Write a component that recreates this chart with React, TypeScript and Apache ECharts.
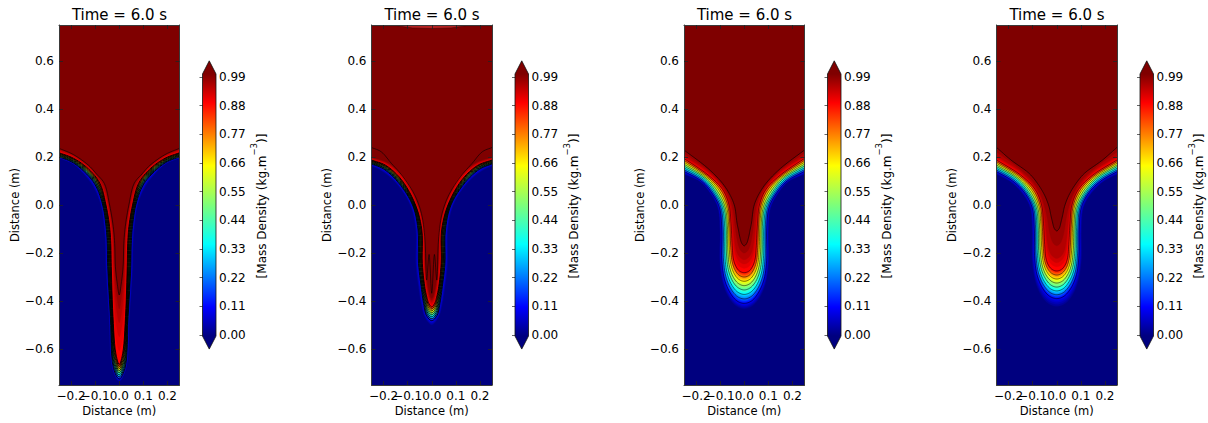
import React, { useEffect, useRef } from "react";
import * as echarts from "echarts";

const titleText = "Time = 6.0 s";
const axisName = "Distance (m)";
const xTicks = [-0.2, -0.1, 0, 0.1, 0.2];
const xLabelOrder = [0, -0.2, -0.1, 0.1, 0.2];
const yTicks = [-0.6, -0.4, -0.2, 0, 0.2, 0.4, 0.6];
const jetStops: [number, string][] = [[0, "#00007f"], [0.11, "#0000ff"], [0.35, "#00ffff"], [0.5, "#7dff7a"], [0.65, "#ffff00"], [0.89, "#ff0000"], [1, "#7f0000"]];
const contourLevels = [0.11, 0.22, 0.33, 0.44, 0.55, 0.66, 0.77, 0.88, 0.99];
const cbarOutline = [[0, -0.004], [0.5, -0.054], [1, -0.004], [1, 1.0015], [0.5, 1.052], [0, 1.0015]];

type Pt = [number, number];
const p1Levels = [0, 0.11, 0.88, 0.99];
const p1Curves: Pt[][] = [
  [[0, -0.738], [0.03, -0.68], [0.044, -0.465], [0.058, -0.257], [0.06, -0.16], [0.065, -0.09], [0.078, 0], [0.105, 0.065], [0.127, 0.1], [0.19, 0.168], [0.25, 0.194]],
  [[0, -0.725], [0.024, -0.68], [0.037, -0.465], [0.048, -0.257], [0.05, -0.16], [0.055, -0.09], [0.069, 0], [0.095, 0.075], [0.127, 0.12], [0.19, 0.175], [0.25, 0.201]],
  [[0, -0.665], [0.014, -0.62], [0.026, -0.465], [0.033, -0.257], [0.035, -0.16], [0.04, -0.09], [0.055, 0], [0.08, 0.09], [0.127, 0.15], [0.19, 0.195], [0.25, 0.218]],
  [[0, -0.375], [0.008, -0.33], [0.016, -0.257], [0.019, -0.16], [0.025, -0.09], [0.04, 0], [0.062, 0.09], [0.095, 0.13], [0.127, 0.165], [0.19, 0.21], [0.25, 0.236]],
];
const p2Levels = [0, 0.11, 0.88, 0.99];
const p2Curves: Pt[][] = [
  [[0, -0.504], [0.03, -0.47], [0.045, -0.42], [0.058, -0.34], [0.069, -0.243], [0.069, -0.104], [0.092, 0], [0.15, 0.09], [0.21, 0.14], [0.25, 0.16]],
  [[0, -0.482], [0.022, -0.46], [0.034, -0.41], [0.044, -0.34], [0.055, -0.243], [0.057, -0.104], [0.08, 0], [0.14, 0.095], [0.2, 0.15], [0.25, 0.171]],
  [[0, -0.425], [0.012, -0.41], [0.02, -0.385], [0.029, -0.34], [0.039, -0.243], [0.041, -0.104], [0.067, 0], [0.125, 0.105], [0.19, 0.165], [0.25, 0.1875]],
  [[0, -0.389], [0.006, -0.38], [0.011, -0.36], [0.017, -0.33], [0.025, -0.243], [0.029, -0.104], [0.053, 0], [0.112, 0.115], [0.18, 0.175], [0.25, 0.2]],
];
const p2ThinLine: Pt[] = [[0, -0.368], [0.011, -0.206], [0.021, -0.313], [0.029, -0.132], [0.043, -0.035], [0.071, 0.042], [0.119, 0.118], [0.168, 0.174], [0.21, 0.222], [0.251, 0.24]];
const p2TopArc: Pt[] = [[0, 0.735], [0.08, 0.738], [0.145, 0.747], [0.3, 0.747]];
const p3Levels = [0, 0.11, 0.44, 0.88, 0.95, 0.99];
const p3Curves: Pt[][] = [
  [[0, -0.4375], [0.035, -0.425], [0.065, -0.39], [0.09, -0.33], [0.103, -0.24], [0.103, -0.1], [0.112, -0.01], [0.144, 0.05], [0.185, 0.097], [0.25, 0.125]],
  [[0, -0.41], [0.03, -0.4], [0.058, -0.367], [0.082, -0.31], [0.093, -0.23], [0.093, -0.1], [0.103, -0.01], [0.135, 0.051], [0.178, 0.1], [0.25, 0.14]],
  [[0, -0.354], [0.025, -0.345], [0.048, -0.318], [0.066, -0.27], [0.074, -0.2], [0.075, -0.09], [0.085, -0.01], [0.118, 0.055], [0.163, 0.11], [0.25, 0.1625]],
  [[0, -0.282], [0.02, -0.275], [0.035, -0.255], [0.045, -0.225], [0.05, -0.17], [0.055, -0.076], [0.063, 0], [0.09, 0.065], [0.15, 0.125], [0.25, 0.194]],
  [[0, -0.225], [0.018, -0.215], [0.03, -0.195], [0.038, -0.16], [0.044, -0.11], [0.05, -0.05], [0.06, 0.01], [0.088, 0.072], [0.15, 0.14], [0.25, 0.205]],
  [[0, -0.17], [0.01, -0.16], [0.018, -0.135], [0.024, -0.105], [0.03, -0.075], [0.04, -0.005], [0.058, 0.04], [0.09, 0.09], [0.15, 0.152], [0.25, 0.229]],
];
const p4Levels = [0, 0.11, 0.44, 0.88, 0.95, 0.99];
const p4Curves: Pt[][] = [
  [[0, -0.43], [0.035, -0.418], [0.065, -0.385], [0.09, -0.325], [0.105, -0.23], [0.105, -0.1], [0.113, -0.01], [0.147, 0.049], [0.196, 0.097], [0.25, 0.125]],
  [[0, -0.39], [0.03, -0.38], [0.058, -0.348], [0.082, -0.29], [0.092, -0.21], [0.093, -0.1], [0.102, -0.01], [0.134, 0.052], [0.183, 0.1], [0.25, 0.139]],
  [[0, -0.342], [0.025, -0.333], [0.048, -0.305], [0.066, -0.26], [0.075, -0.19], [0.077, -0.09], [0.085, -0.01], [0.117, 0.055], [0.166, 0.11], [0.25, 0.16]],
  [[0, -0.275], [0.02, -0.268], [0.035, -0.25], [0.045, -0.22], [0.05, -0.165], [0.055, -0.076], [0.063, 0], [0.09, 0.065], [0.15, 0.125], [0.25, 0.1875]],
  [[0, -0.22], [0.018, -0.21], [0.03, -0.19], [0.038, -0.155], [0.044, -0.105], [0.05, -0.05], [0.06, 0.01], [0.088, 0.072], [0.15, 0.14], [0.25, 0.205]],
  [[0, -0.108], [0.01, -0.098], [0.018, -0.07], [0.025, -0.04], [0.032, -0.007], [0.05, 0.04], [0.08, 0.09], [0.115, 0.132], [0.19, 0.1875], [0.25, 0.24]],
];

const panels = [
  { left: 59, levels: p1Levels, curves: p1Curves, packed: true },
  { left: 371.5, levels: p2Levels, curves: p2Curves, packed: true, thinLine: p2ThinLine, topArc: p2TopArc },
  { left: 684, levels: p3Levels, curves: p3Curves, packed: false },
  { left: 996.5, levels: p4Levels, curves: p4Curves, packed: false },
];

function hex(c: string) {
  return [1, 3, 5].map((i) => parseInt(c.slice(i, i + 2), 16));
}
function jet(level: number) {
  const t = Math.max(0, Math.min(1, level / 0.99));
  for (let i = 1; i < jetStops.length; i++) {
    if (t <= jetStops[i][0]) {
      const [a, ca] = jetStops[i - 1];
      const [b, cb] = jetStops[i];
      const f = (t - a) / (b - a);
      const A = hex(ca), B = hex(cb);
      return `rgb(${A.map((v, k) => Math.round(v + (B[k] - v) * f)).join(",")})`;
    }
  }
  return "#7f0000";
}
// Shade between two read contours for the fill of a band.
function curveAt(p: { levels: number[]; curves: Pt[][] }, level: number): Pt[] {
  let i = 0;
  while (i < p.levels.length - 2 && level > p.levels[i + 1]) i++;
  const f = (level - p.levels[i]) / (p.levels[i + 1] - p.levels[i]);
  return p.curves[i].map((a, k) => {
    const b = p.curves[i + 1][k];
    return [a[0] + (b[0] - a[0]) * f, a[1] + (b[1] - a[1]) * f] as Pt;
  });
}
function extended(c: Pt[]): Pt[] {
  const e = c[c.length - 1], g = c[c.length - 2];
  const slope = (e[1] - g[1]) / (e[0] - g[0]);
  return [...c, [e[0] + 0.06, e[1] + slope * 0.06]];
}
// Curves run from the tip outwards; the left side is the mirror image.
function mirrored(c: Pt[]): Pt[] {
  const left = c.filter((q) => q[0] !== 0).map((q) => [-q[0], q[1]] as Pt).reverse();
  return [...left, ...c];
}
// Centripetal Catmull-Rom drawing of a curve through its pixel points.
function spline(P: number[][]): number[][] {
  const out: number[][] = [];
  const n = P.length;
  const knot = (a: number[], b: number[]) => Math.sqrt(Math.hypot(b[0] - a[0], b[1] - a[1])) || 1e-3;
  for (let i = 0; i < n - 1; i++) {
    const p1 = P[i], p2 = P[i + 1];
    const p0 = i > 0 ? P[i - 1] : [2 * p1[0] - p2[0], 2 * p1[1] - p2[1]];
    const p3 = i < n - 2 ? P[i + 2] : [2 * p2[0] - p1[0], 2 * p2[1] - p1[1]];
    const t1 = knot(p0, p1), t2 = t1 + knot(p1, p2), t3 = t2 + knot(p2, p3);
    for (let s = 0; s < 6; s++) {
      const t = t1 + ((t2 - t1) * s) / 6;
      const q: number[] = [0, 1].map((k) => {
        const a1 = ((t1 - t) * p0[k] + t * p1[k]) / t1;
        const a2 = ((t2 - t) * p1[k] + (t - t1) * p2[k]) / (t2 - t1);
        const a3 = ((t3 - t) * p2[k] + (t - t2) * p3[k]) / (t3 - t2);
        const b1 = ((t2 - t) * a1 + t * a2) / t2;
        const b2 = ((t3 - t) * a2 + (t - t1) * a3) / (t3 - t1);
        return ((t2 - t) * b1 + (t - t1) * b2) / (t2 - t1);
      });
      out.push(q);
    }
  }
  out.push(P[n - 1]);
  return out;
}
const font = "DejaVu Sans";

function buildOption() {
  const grids: any[] = [], xAxis: any[] = [], yAxis: any[] = [], series: any[] = [], title: any[] = [];
  const spine = { show: true, onZero: false, lineStyle: { color: "#3a3a3a", width: 1 } };
  const fmt = (v: number) => v.toFixed(1).replace("-", "\u2212");
  panels.forEach((p: any) => {
    const xi = xAxis.length, yi = yAxis.length, g = grids.length;
    grids.push({ left: p.left, top: 25, width: 120.5, height: 360 });
    title.push({ text: titleText, left: p.left + 55.5, top: 2, textAlign: "center", textStyle: { fontFamily: font, fontSize: 15, fontWeight: "normal", color: "#000" } });
    const tick = (vals: number[]) => ({ show: true, inside: true, length: 4, customValues: vals, lineStyle: { color: "#222", width: 0.8 } });
    xAxis.push({
      type: "value", gridIndex: g, min: -0.25, max: 0.25, position: "bottom", z: 5, axisLine: spine, splitLine: { show: false },
      axisTick: tick(xTicks), axisLabel: { customValues: xLabelOrder, formatter: fmt, fontFamily: font, fontSize: 12, color: "#000", margin: 5, hideOverlap: false, showMinLabel: true, showMaxLabel: true },
      name: axisName, nameLocation: "middle", nameGap: 20, nameMoveOverlap: false, nameTextStyle: { fontFamily: font, fontSize: 11.5, color: "#000" },
    });
    xAxis.push({ type: "value", gridIndex: g, min: -0.25, max: 0.25, position: "top", z: 5, axisLine: spine, splitLine: { show: false }, axisTick: tick(xTicks), axisLabel: { show: false } });
    yAxis.push({
      type: "value", gridIndex: g, min: -0.75, max: 0.75, position: "left", z: 5, axisLine: spine, splitLine: { show: false },
      axisTick: tick(yTicks), axisLabel: { customValues: yTicks, formatter: fmt, fontFamily: font, fontSize: 12, color: "#000", margin: 5, showMinLabel: true, showMaxLabel: true },
      name: axisName, nameLocation: "middle", nameGap: 37, nameRotate: 90, nameTextStyle: { fontFamily: font, fontSize: 11.5, color: "#000" },
    });
    yAxis.push({ type: "value", gridIndex: g, min: -0.75, max: 0.75, position: "right", z: 5, axisLine: spine, splitLine: { show: false }, axisTick: tick(yTicks), axisLabel: { show: false } });
    series.push({
      type: "custom", xAxisIndex: xi, yAxisIndex: yi, clip: true, z: 2, silent: true, data: [[0, 0]],
      renderItem: (params: any, api: any) => {
        const cs = params.coordSys;
        const toPx = (c: Pt[]) => c.map((q) => api.coord(q));
        const children: any[] = [{ type: "rect", shape: { x: cs.x, y: cs.y, width: cs.width, height: cs.height }, style: { fill: jet(0) } }];
        for (let n = 1; n <= 45; n++) {
          const lv = n * 0.022;
          const pts = spline(toPx(mirrored(extended(curveAt(p, lv)))));
          const first = pts[0], last = pts[pts.length - 1];
          children.push({ type: "polygon", shape: { points: [[first[0], cs.y - 200], ...pts, [last[0], cs.y - 200]] }, style: { fill: jet(lv), stroke: jet(lv), lineWidth: 0.3 } });
        }
        if (p.topArc) {
          const pts = toPx(mirrored(p.topArc));
          children.push({ type: "polygon", shape: { points: [[pts[0][0], cs.y - 20], ...pts, [pts[pts.length - 1][0], cs.y - 20]] }, style: { fill: "#b42020" } });
          children.push({ type: "polyline", shape: { points: toPx(mirrored(p.topArc)) }, style: { stroke: "#000", lineWidth: 0.5, opacity: 0.6, fill: "none" } });
        }
        contourLevels.forEach((lv) => {
          const top = lv === 0.99;
          const c = top && p.thinLine ? extended(p.thinLine) : extended(curveAt(p, lv));
          const width = top ? 0.7 : p.packed ? 1.0 : 0.7;
          const alpha = top ? 0.85 : p.packed ? 0.9 : 0.75;
          children.push({ type: "polyline", shape: { points: spline(toPx(mirrored(c))) }, style: { stroke: "#000", lineWidth: width, opacity: alpha, fill: "none" } });
        });
        return { type: "group", clipPath: { type: "rect", shape: { x: cs.x, y: cs.y, width: cs.width, height: cs.height } }, children };
      },
    });
    // colour bar
    const gi = grids.length;
    grids.push({ left: p.left + 143.5, top: 77, width: 13.5, height: 258 });
    const cx = xAxis.length, cy = yAxis.length;
    xAxis.push({ type: "value", gridIndex: gi, min: 0, max: 1, show: false });
    yAxis.push({
      type: "value", gridIndex: gi, min: 0, max: 0.99, interval: 0.11, position: "right", z: 5, splitLine: { show: false }, axisLine: { show: false },
      axisTick: { show: true, inside: true, length: 3, lineStyle: { color: "#000", width: 0.6 } },
      axisLabel: { formatter: (v: number) => v.toFixed(2), fontFamily: font, fontSize: 12, color: "#000", margin: 3 },
      name: "{a|[Mass Density (kg.m}{s|\u22123}{a|)]}", nameLocation: "middle", nameGap: 32, nameRotate: 90,
      nameTextStyle: { rich: { a: { fontFamily: font, fontSize: 12, color: "#000", lineHeight: 18, verticalAlign: "bottom" }, s: { fontFamily: font, fontSize: 8.5, color: "#000", lineHeight: 18, verticalAlign: "top" } }, padding: [0, 0, 7, 0] },
    });
    series.push({
      type: "custom", xAxisIndex: cx, yAxisIndex: cy, clip: false, z: 2, silent: true, data: [[0, 0]],
      renderItem: (_: any, api: any) => {
        const grad = jetStops.map(([o, c]) => ({ offset: 1 - o, color: c })).reverse();
        const tl = api.coord([0, 1.0015]), br = api.coord([1, -0.004]);
        const outline = cbarOutline.map((q) => api.coord(q));
        return {
          type: "group",
          children: [
            { type: "polygon", shape: { points: outline.slice(0, 3) }, style: { fill: "#00007f" } },
            { type: "polygon", shape: { points: outline.slice(3) }, style: { fill: "#7f0000" } },
            { type: "rect", shape: { x: tl[0], y: tl[1], width: br[0] - tl[0], height: br[1] - tl[1] }, style: { fill: new echarts.graphic.LinearGradient(0, 0, 0, 1, grad) } },
            { type: "polygon", shape: { points: outline }, style: { fill: "none", stroke: "#111", lineWidth: 0.8 } },
          ],
        };
      },
    });
  });
  return { animation: false, backgroundColor: "#fff", title, grid: grids, xAxis, yAxis, series };
}

export default function App() {
  const ref = useRef<HTMLDivElement>(null);
  useEffect(() => {
    const chart = echarts.init(ref.current!, undefined, { renderer: "svg" });
    chart.setOption(buildOption());
    return () => chart.dispose();
  }, []);
  return <div ref={ref} style={{ position: "absolute", left: 0, top: 0, width: 1208, height: 423 }} />;
}
